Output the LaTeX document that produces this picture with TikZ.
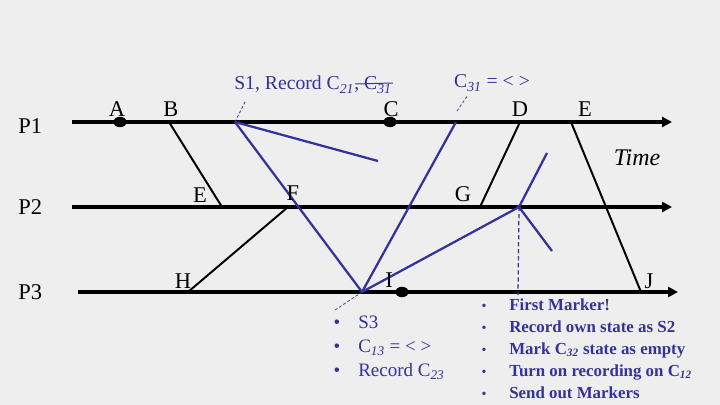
\documentclass[tikz,border=0pt]{standalone}
\usepackage{fontspec}
\setmainfont{Liberation Serif}
\usetikzlibrary{arrows.meta,shapes.geometric}
\definecolor{navy}{RGB}{51,51,153}
\definecolor{bgray}{RGB}{238,238,238}

\begin{document}
\begin{tikzpicture}[x=0.025cm,y=-0.025cm,
  axis/.style={line width=2.2pt,-{Triangle[length=7pt,width=7pt]}},
  msg/.style={line width=1.4pt},
  mrk/.style={navy,line width=1.6pt},
  lead/.style={navy,line width=0.5pt,dash pattern=on 2pt off 1.5pt},
  dot/.style={ellipse,fill=black,minimum width=0.33cm,minimum height=0.26cm,inner sep=0pt},
  lab/.style={font=\fontsize{16}{18}\selectfont,anchor=base,inner sep=0pt},
  note/.style={navy,font=\fontsize{14}{16}\selectfont,anchor=base,inner sep=0pt},
  item/.style={navy,font=\fontsize{13.5}{16}\selectfont,anchor=base west,inner sep=0pt},
  bitem/.style={navy,font=\bfseries\fontsize{12}{14}\selectfont,anchor=base west,inner sep=0pt}]
  \fill[bgray] (0,0) rectangle (720,405);
  \useasboundingbox (0,0) rectangle (720,405);
  % process lines
  \coordinate (p1s) at (72,122);  \coordinate (p1e) at (672,122);
  \coordinate (p2s) at (72,207);  \coordinate (p2e) at (672,207);
  \coordinate (p3s) at (78,292);  \coordinate (p3e) at (678,292);
  \draw[axis] (p1s) -- (p1e);
  \draw[axis] (p2s) -- (p2e);
  \draw[axis] (p3s) -- (p3e);
  \node[lab,anchor=base west] (P1) at (18,134) {P1};
  \node[lab,anchor=base west] (P2) at (18,215) {P2};
  \node[lab,anchor=base west] (P3) at (18,299) {P3};
  % events
  \coordinate (a) at (120,122);  \coordinate (b) at (169,122);
  \coordinate (c) at (390,122);  \coordinate (d) at (520,122);
  \coordinate (ee) at (571,122); \coordinate (s1) at (235,122);
  \coordinate (cm) at (456,122);
  \coordinate (e) at (222,207);  \coordinate (f) at (288,207);
  \coordinate (g) at (480,207);  \coordinate (s2) at (519,207);
  \coordinate (h) at (188,292);  \coordinate (i) at (402,292);
  \coordinate (j) at (641,292);  \coordinate (s3) at (362,292);
  \coordinate (m1) at (378,161); \coordinate (m2) at (547,153);
  \coordinate (m3) at (552,251); \coordinate (s2f) at (518,295);
  % messages
  \draw[msg] (b) -- (e);
  \draw[msg] (h) -- (f);
  \draw[msg] (d) -- (g);
  \draw[msg] (ee) -- (j);
  % markers
  \draw[mrk] (s1) -- (m1);
  \draw[mrk] (s1) -- (s3);
  \draw[mrk] (s3) -- (cm);
  \draw[mrk] (s3) -- (s2);
  \draw[mrk] (s2) -- (m2);
  \draw[mrk] (s2) -- (m3);
  \draw[navy,line width=0.9pt,dash pattern=on 3pt off 2pt] (s2) -- (s2f);
  % event labels
  \node[lab] (labA) at (117,117) {A};
  \node[lab] (labB) at (171,117) {B};
  \node[lab] (labC) at (391,117) {C};
  \node[lab] (labD) at (520,117) {D};
  \node[lab] (labEE) at (585,117) {E};
  \node[lab] (labE) at (200,203) {E};
  \node[lab] (labF) at (293,201) {F};
  \node[lab] (labG) at (463,202) {G};
  \node[lab] (labH) at (183,288) {H};
  \node[lab] (labI) at (389,287) {I};
  \node[lab] (labJ) at (649,288) {J};
  \node[lab,font=\itshape\fontsize{17}{20}\selectfont] (time) at (637,166) {Time};
  \foreach \v in {a,c,i} \node[dot] (dot\v) at (\v) {};
  % notes
  \coordinate (l1) at (246,100);
  \coordinate (l2a) at (457,111); \coordinate (l2b) at (468,95);
  \coordinate (l3) at (335,310);
  \draw[lead] (s1) -- (l1);
  \draw[lead] (l2a) -- (l2b);
  \draw[lead] (s3) -- (l3);
  \node[note] (s1note) at (313,90) {S1, Record C\textsubscript{\textit{21}}, C\textsubscript{\textit{31}}};
  \draw[navy,line width=0.7pt] (355,84) -- (393,83);
  \node[note] (c31note) at (492,88) {C\textsubscript{\textit{31}} = < >};
  \foreach \t [count=\k] in {{S3},{C\textsubscript{\textit{13}} = < >},{Record C\textsubscript{\textit{23}}}}
    \node[item] (left\k) at (358,304+24*\k) {\llap{\textbullet\hspace{0.45cm}}\t};
  \foreach \t [count=\k] in {{First Marker!},{Record own state as S2},
      {Mark C\textsubscript{\textit{32}} state as empty},
      {Turn on recording on C\textsubscript{\textit{12}}},{Send out Markers}}
    \node[bitem] (right\k) at (509,288+22*\k) {\llap{\textmd{\fontsize{10}{10}\selectfont\textbullet}\hspace{0.57cm}}\t};
\end{tikzpicture}
\end{document}
